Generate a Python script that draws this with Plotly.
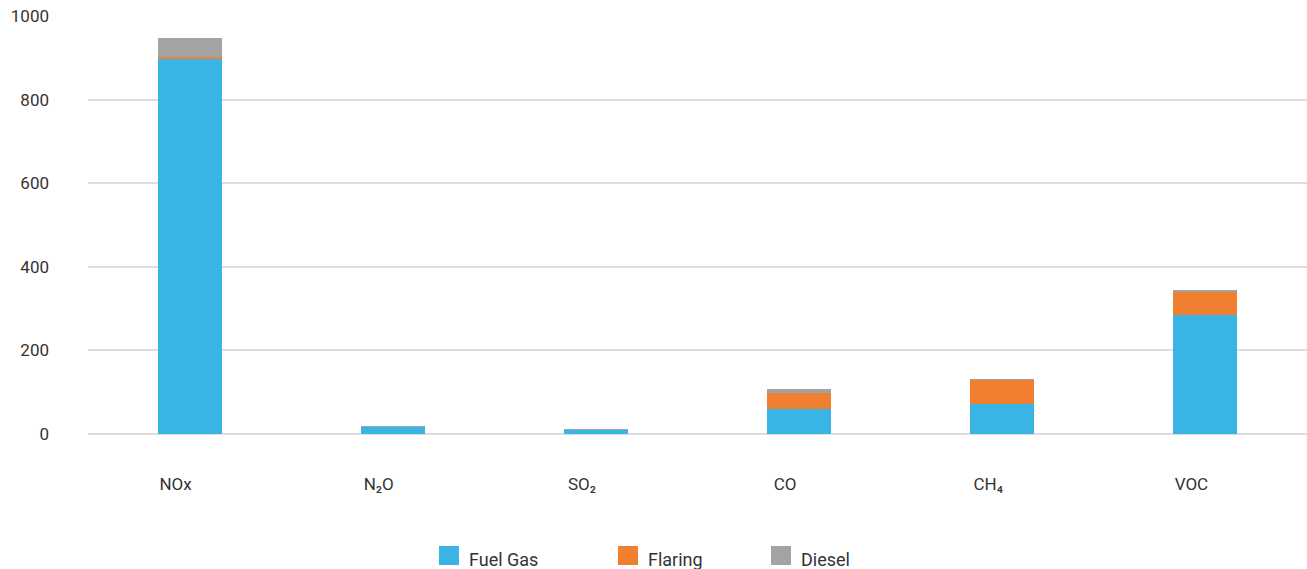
import plotly.graph_objects as go

# Emissions by pollutant, split by source
categories = ["NOx", "N₂O", "SO₂", "CO", "CH₄", "VOC"]
fuel_gas = [896, 17, 10, 59, 72, 284]
flaring = [6, 0, 0, 40, 58, 58]
diesel = [45, 1, 1, 8, 1, 1]

series_names = ["Fuel Gas", "Flaring", "Diesel"]
series_colors = ["#3AB3E5", "#F07F30", "#A3A3A3"]
series_values = [fuel_gas, flaring, diesel]

y_ticks = [0, 200, 400, 600, 800, 1000]

FONT = "Roboto, Arial, sans-serif"
TEXT = "#333333"

fig = go.Figure()
for name, color, vals in zip(series_names, series_colors, series_values):
    fig.add_trace(go.Bar(
        x=categories, y=vals, name=name,
        marker=dict(color=color, line=dict(width=0)),
        showlegend=False,
    ))

# Plot-area geometry (pixels) used to place the custom legend
W, H = 1307, 569
L, R, T, B = 88, 0, 16, 135
pw, ph = W - L - R, H - T - B


def px_x(x):
    return (x - L) / pw


def px_y(y):
    return (H - B - y) / ph


legend_items = [(439, 467), (618, 646), (771, 799)]
shapes, annotations = [], []
for (sq_x, tx_x), name, color in zip(legend_items, series_names, series_colors):
    shapes.append(dict(
        type="rect", xref="paper", yref="paper",
        x0=px_x(sq_x), x1=px_x(sq_x + 20), y0=px_y(565), y1=px_y(546),
        fillcolor=color, line=dict(width=0), layer="above",
    ))
    annotations.append(dict(
        xref="paper", yref="paper", x=px_x(tx_x), y=px_y(559),
        text=name, showarrow=False, xanchor="left", yanchor="middle",
        font=dict(family=FONT, size=18, color=TEXT),
    ))

fig.update_layout(
    width=W, height=H,
    margin=dict(l=L, r=R, t=T, b=B, pad=0),
    barmode="stack",
    bargap=0.685,
    plot_bgcolor="white",
    paper_bgcolor="white",
    font=dict(family=FONT, size=17, color=TEXT),
    shapes=shapes,
    annotations=annotations,
    xaxis=dict(
        type="category",
        showgrid=False, showline=False, zeroline=False,
        ticks="", ticklabelstandoff=38, ticklabelshift=-14,
        tickfont=dict(family=FONT, size=17, color=TEXT),
    ),
    yaxis=dict(
        range=[0, 1000],
        tickvals=y_ticks,
        showgrid=True, gridcolor="#DDDDDD", gridwidth=2,
        zeroline=True, zerolinecolor="#DDDDDD", zerolinewidth=2,
        showline=False, ticks="", ticklabelstandoff=38,
        tickfont=dict(family=FONT, size=17, color=TEXT),
    ),
)

fig.write_html("out.html")
